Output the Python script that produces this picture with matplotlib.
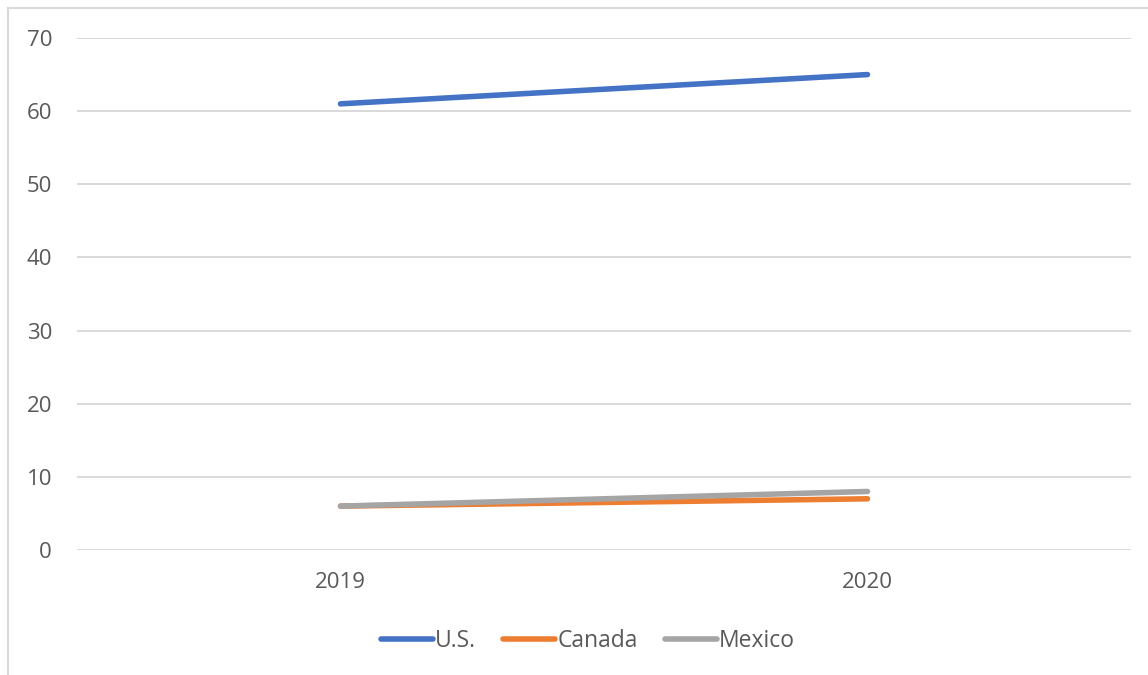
import matplotlib
matplotlib.use('Agg')
import matplotlib.pyplot as plt
from matplotlib.lines import Line2D

# yearly values per country
years = ['2019', '2020']
us = [61, 65]
canada = [6, 7]
mexico = [6, 8]

series_names = ['U.S.', 'Canada', 'Mexico']
series_colors = ['#4472C4', '#ED7D31', '#A5A5A5']

plt.rcParams['font.family'] = ['Open Sans', 'DejaVu Sans']
text_col = '#595959'

fig = plt.figure(figsize=(11.48, 6.75), dpi=100)
ax = fig.add_axes([77/1148, 1-550/675, (1131-77)/1148, (550-38)/675])

x = list(range(len(years)))
for vals, name, col in zip([us, canada, mexico], series_names, series_colors):
    ax.plot(x, vals, color=col, lw=4.0, solid_capstyle='round', label=name)

ax.set_xlim(-0.5, len(years) - 0.5)
ax.set_ylim(0, 70)
ax.set_yticks(range(0, 71, 10))
ax.set_xticks(x)
ax.set_xticklabels(years)
ax.yaxis.grid(True, color='#D9D9D9', lw=1.4)
ax.set_axisbelow(True)
for s in ax.spines.values():
    s.set_visible(False)
ax.tick_params(length=0, labelsize=16, labelcolor=text_col)
ax.tick_params(axis='y', pad=18)
ax.tick_params(axis='x', pad=16)

leg = fig.legend(loc='center', bbox_to_anchor=(588/1148, 1-641/675), ncol=3,
                 frameon=False, fontsize=16.5, handlelength=2.25,
                 handletextpad=0.1, columnspacing=1.2)
for t in leg.get_texts():
    t.set_color(text_col)

# chart frame (left and top edges)
fig.add_artist(Line2D([7.5/1148, 7.5/1148], [0, 1-8/675], color='#D9D9D9', lw=1.5,
                      transform=fig.transFigure))
fig.add_artist(Line2D([7.5/1148, 1], [1-8/675, 1-8/675], color='#D9D9D9', lw=1.5,
                      transform=fig.transFigure))

fig.savefig('out.png', dpi=100)
